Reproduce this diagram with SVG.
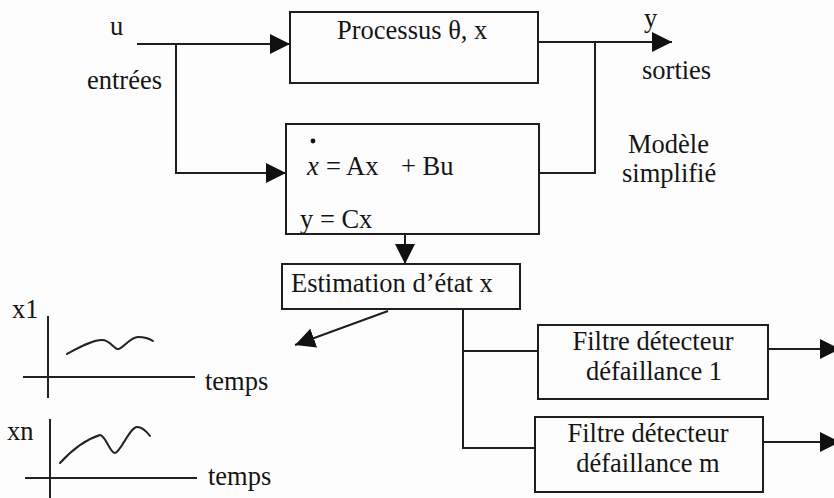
<svg xmlns="http://www.w3.org/2000/svg" width="834" height="498" viewBox="0 0 834 498">
  <style>
    .box { fill: none; stroke: #1e1e1e; stroke-width: 2; }
    .wire { fill: none; stroke: #1e1e1e; stroke-width: 2; }
    .axis { fill: none; stroke: #222; stroke-width: 2; }
    .curve { fill: none; stroke: #222; stroke-width: 2; stroke-linejoin: round; stroke-linecap: round; }
    text { font-family: "Liberation Serif", "Times New Roman", serif; font-size: 26.5px; fill: #151515; }
  </style>
  <defs>
    <marker id="head" markerUnits="userSpaceOnUse" markerWidth="20" markerHeight="20" refX="20" refY="10" orient="auto">
      <path d="M0,0 L20,10 L0,20 Z" fill="#111"/>
    </marker>
  </defs>
  <rect width="834" height="498" fill="#fdfdfd"/>

  <!-- Connectors -->
  <g id="connectors">
    <line class="wire" x1="137" y1="44" x2="290" y2="44" marker-end="url(#head)"/>
    <polyline class="wire" points="176,44 176,173 286,173" marker-end="url(#head)"/>
    <line class="wire" x1="538" y1="42" x2="672" y2="42" marker-end="url(#head)"/>
    <polyline class="wire" points="595,42 595,173 539,173"/>
    <line class="wire" x1="405" y1="234" x2="405" y2="264" marker-end="url(#head)"/>
    <line class="wire" x1="388" y1="311" x2="295" y2="345" marker-end="url(#head)"/>
    <polyline class="wire" points="463,309 463,448 535,448"/>
    <line class="wire" x1="463" y1="351" x2="538" y2="351"/>
    <line class="wire" x1="768" y1="349" x2="840" y2="349" marker-end="url(#head)"/>
    <line class="wire" x1="763" y1="442" x2="840" y2="442" marker-end="url(#head)"/>
  </g>

  <!-- Signal labels -->
  <g id="labels">
    <text x="110" y="35">u</text>
    <text x="87" y="89">entrées</text>
    <text x="644" y="27">y</text>
    <text x="642" y="79">sorties</text>
    <text x="628" y="153">Modèle</text>
    <text x="622" y="182">simplifié</text>
  </g>

  <g id="processus">
    <rect class="box" x="290" y="12" width="248" height="71"/>
    <text x="337" y="39">Processus θ, x</text>
  </g>

  <g id="modele">
    <rect class="box" x="286" y="124" width="253" height="110"/>
    <circle cx="313" cy="141" r="2.4" fill="#111"/>
    <text x="307" y="175" font-style="italic">x</text>
    <text x="326" y="175">= Ax</text>
    <text x="401" y="175">+ Bu</text>
    <text x="300" y="228">y = Cx</text>
  </g>

  <g id="estimation">
    <rect class="box" x="282" y="264" width="238" height="45"/>
    <text x="291" y="292">Estimation d’état x</text>
  </g>

  <g id="filtre-1">
    <rect class="box" x="538" y="325" width="230" height="74"/>
    <text x="653" y="350" text-anchor="middle">Filtre détecteur</text>
    <text x="654" y="380" text-anchor="middle">défaillance 1</text>
  </g>

  <g id="filtre-m">
    <rect class="box" x="535" y="417" width="228" height="75"/>
    <text x="648" y="442" text-anchor="middle">Filtre détecteur</text>
    <text x="648" y="472" text-anchor="middle">défaillance m</text>
  </g>

  <!-- State trajectories -->
  <g id="graphe-x1">
    <line class="axis" x1="48" y1="316" x2="48" y2="398"/>
    <line class="axis" x1="23" y1="377" x2="195" y2="377"/>
    <path class="curve" d="M67,354 C78,348 92,340 102,340 C110,340 114,349 118,349 C123,349 130,337 138,337 C145,337 150,339 153,341"/>
    <text x="12" y="318">x1</text>
    <text x="205" y="390">temps</text>
  </g>

  <g id="graphe-xn">
    <line class="axis" x1="50" y1="419" x2="50" y2="500"/>
    <line class="axis" x1="25" y1="478" x2="197" y2="478"/>
    <path class="curve" d="M60,463 C70,452 84,440 100,435 C106,436 110,453 115,453 C120,453 130,427 137,427 C142,427 147,432 150,436"/>
    <text x="7" y="440">xn</text>
    <text x="208" y="485">temps</text>
  </g>
</svg>
